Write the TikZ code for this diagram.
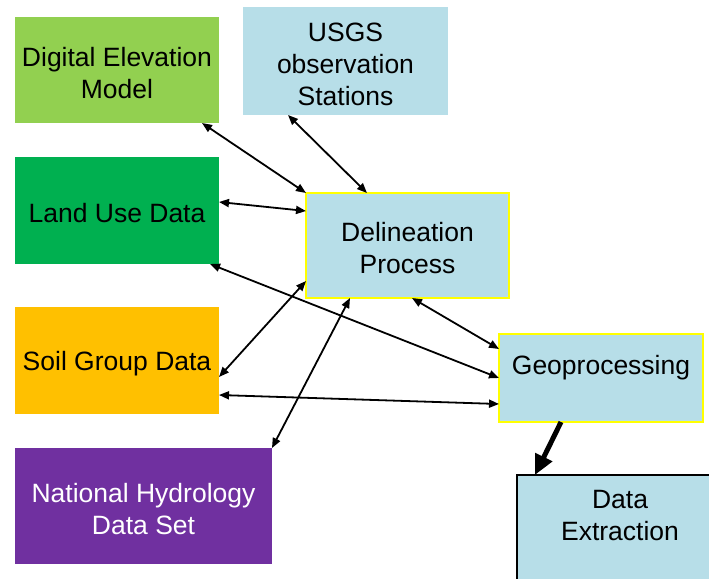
\documentclass[tikz,border=0pt]{standalone}
\usepackage{fontspec}
\setmainfont{Liberation Sans}
\usetikzlibrary{arrows.meta}
\definecolor{leaf}{HTML}{92D050}
\definecolor{grass}{HTML}{00B050}
\definecolor{amber}{HTML}{FFC000}
\definecolor{violet}{HTML}{7030A0}
\definecolor{aqua}{HTML}{B7DEE8}
\definecolor{hilite}{HTML}{FFFF00}

\begin{document}
\begin{tikzpicture}[x=1pt,y=-1pt,
  label text/.style={inner sep=0pt, align=center, font=\fontsize{26.5}{32}\selectfont},
  box/.style={rectangle, inner sep=0pt, outer sep=0pt},
  caption/.style={label={[label text, yshift=-3pt]center:{#1}}},
  framed/.style={draw=hilite, line width=2pt},
  link/.style={line width=1.8pt,
    {Triangle[length=10pt,width=8pt]}-{Triangle[length=10pt,width=8pt]}},
  feed/.style={line width=5pt, -{Triangle[length=20pt,width=18pt]}},
]
\clip (0,0) rectangle (709,578);
\fill[white] (0,0) rectangle (709,578);

% source data boxes
\node[box, fill=leaf, minimum width=204pt, minimum height=106pt,
  caption={Digital Elevation\\Model}] (dem) at (117,70) {};
\node[box, fill=aqua, minimum width=205pt, minimum height=108pt,
  caption={USGS\\observation\\Stations}] (usgs) at (345.5,61) {};
\node[box, fill=grass, minimum width=204pt, minimum height=107pt,
  caption={Land Use Data}] (land) at (117,210.5) {};
\node[box, fill=amber, minimum width=204pt, minimum height=107pt,
  caption={Soil Group Data}] (soil) at (117,360.5) {};
\node[box, fill=violet, minimum width=257pt, minimum height=116pt,
  label={[label text, text=white, yshift=-3pt]center:{National Hydrology\\Data Set}}]
  (nhd) at (143.5,506) {};

% processing steps
\node[box, framed, fill=aqua, minimum width=203pt, minimum height=105pt,
  caption={Delineation\\Process}] (delin) at (407.5,245.5) {};
\node[box, framed, fill=aqua, minimum width=204pt, minimum height=88pt] (geo) at (601,378) {};
\node[label text] (geotext) at (601,368) {Geoprocessing};
\node[box, draw=black, line width=2pt, fill=aqua, minimum width=206pt, minimum height=112pt,
  anchor=north west] (dext) at (517,475) {};
\node[label text] (dexttext) at (620,515.5) {Data\\Extraction};

% data exchange links
\draw[link] ([xshift=-17pt]dem.south east) -- (delin.north west);
\draw[link] ([xshift=45pt]usgs.south west) -- ([xshift=61pt]delin.north west);
\draw[link] ([yshift=8.5pt]land.east) -- ([yshift=-18pt]delin.north west);
\draw[link] ([xshift=-9pt]land.south east) -- (geo.west);
\draw[link] ([xshift=106pt]delin.south west) -- ([yshift=-15pt]geo.north west);
\draw[link] ([yshift=-16.5pt]soil.east) -- ([yshift=17pt]delin.south west);
\draw[link] (nhd.north east) -- ([xshift=44pt]delin.south west);
\draw[link] ([yshift=19pt]soil.south east) -- ([yshift=18pt]geo.south west);

% output
\draw[feed] ([xshift=62pt]geo.south west) -- ([xshift=18pt]dext.north west);
\end{tikzpicture}
\end{document}
